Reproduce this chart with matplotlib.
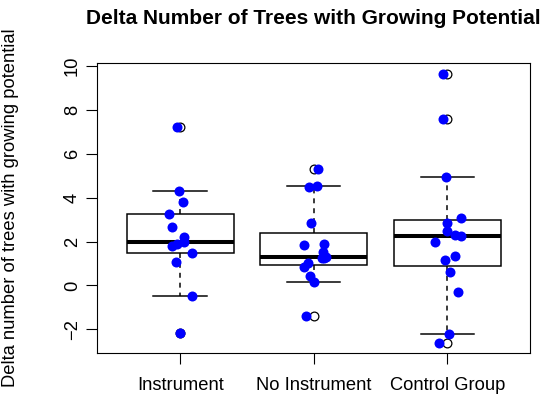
import numpy as np
import matplotlib
matplotlib.use('Agg')
import matplotlib.pyplot as plt

plt.rcParams['font.family'] = ['Liberation Sans', 'DejaVu Sans']

groups = ['Instrument', 'No Instrument', 'Control Group']

# delta values per group
instrument = [7.23, 4.31, 3.78, 3.25, 2.64, 2.21, 1.96, 1.91, 1.81, 1.48, 1.07, -0.46, -2.17]
no_instrument = [5.30, 4.52, 4.47, 2.86, 1.91, 1.83, 1.53, 1.29, 1.27, 1.24, 1.04, 0.86, 0.42, 0.16, -1.39]
control = [9.64, 7.60, 4.94, 3.08, 2.86, 2.50, 2.30, 2.25, 1.97, 1.36, 1.16, 0.60, -0.32, -2.22, -2.60]

# horizontal jitter of the points
jit_instrument = [-0.02, -0.01, 0.02, -0.08, -0.06, 0.03, 0.025, -0.02, -0.06, 0.09, -0.03, 0.09, 0.0]
jit_no_instrument = [0.03, 0.025, -0.035, -0.02, 0.08, -0.075, 0.07, 0.095, 0.06, 0.075, -0.045, -0.07, -0.03, 0.0, -0.06]
jit_control = [-0.035, -0.03, -0.01, 0.10, -0.005, 0.0, 0.06, 0.10, -0.09, 0.06, -0.015, 0.02, 0.08, 0.01, -0.06]

data = [instrument, no_instrument, control]
jitter = [jit_instrument, jit_no_instrument, jit_control]

fig = plt.figure(figsize=(5.47, 4.05), dpi=100)
ax = fig.add_axes([0.178, 0.1277, 0.791, 0.7167])

lw = 1.08
ax.boxplot(data, positions=[1, 2, 3], widths=0.8, whis=1.5, capwidths=0.4,
           patch_artist=True,
           boxprops=dict(facecolor='white', edgecolor='black', linewidth=lw),
           medianprops=dict(color='black', linewidth=2.9),
           whiskerprops=dict(color='black', linestyle=(0, (3.3, 3.3)), linewidth=lw),
           capprops=dict(color='black', linewidth=lw),
           flierprops=dict(marker='o', markerfacecolor='none', markeredgecolor='black',
                           markersize=6.3, markeredgewidth=0.9))

for i, (vals, offs) in enumerate(zip(data, jitter)):
    x = i + 1 + np.array(offs)
    ax.scatter(x, vals, s=7.2 ** 2, color='blue', linewidths=0, zorder=4)

allv = np.concatenate([np.array(d) for d in data])
lo, hi = allv.min(), allv.max()
pad = 0.04 * (hi - lo)
ax.set_ylim(lo - pad, hi + pad)
ax.set_xlim(0.38, 3.62)

fs = 13.2
ax.set_xticks([1, 2, 3])
ax.set_xticklabels(groups, fontsize=fs)
ax.set_yticks(range(-2, 11, 2))
ax.set_yticklabels([str(v).replace('-', '\u2212') for v in range(-2, 11, 2)], fontsize=fs,
                   rotation=90, va='center')
ax.tick_params(axis='both', length=7.9, width=0.8, color='black')
ax.tick_params(axis='x', pad=9)
ax.tick_params(axis='y', pad=4)
for s in ax.spines.values():
    s.set_linewidth(0.8)

fig.text(313.6 / 547, 1 - 18 / 405, 'Delta Number of Trees with Growing Potential',
         ha='center', va='center', fontsize=15, fontweight='bold')
fig.text(11 / 547, 1 - 208 / 405, 'Delta number of trees with growing potential',
         ha='center', va='center', rotation=90, fontsize=fs)

fig.savefig('out.png', dpi=100)
